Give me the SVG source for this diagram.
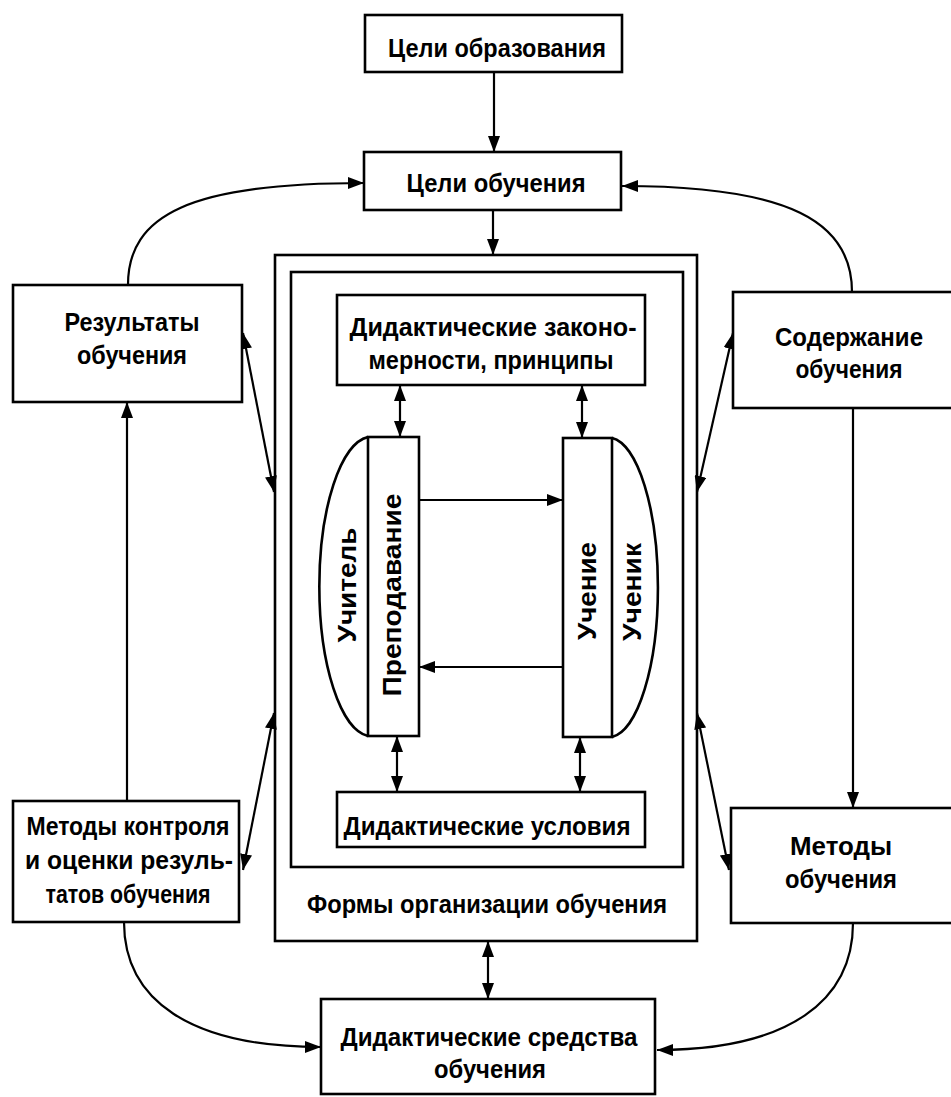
<svg xmlns="http://www.w3.org/2000/svg" width="951" height="1097" viewBox="0 0 951 1097">
<style>
.box{fill:#fff;stroke:#000;stroke-width:2.6}
.frame{fill:none;stroke:#000;stroke-width:2.6}
.ln{fill:none;stroke:#000;stroke-width:2.2}
.t{font-family:"Liberation Sans Narrow","Liberation Sans",Arial,sans-serif;font-size:26px;font-weight:bold;text-anchor:middle;fill:#000}
.r{font-family:"Liberation Sans",Arial,sans-serif;font-size:25px;font-weight:bold;text-anchor:middle;fill:#000}
</style>
<defs>
<marker id="ah" viewBox="0 0 16 12" refX="16" refY="6" markerWidth="16" markerHeight="12" markerUnits="userSpaceOnUse" orient="auto-start-reverse">
<path d="M0,0 L16,6 L0,12 z" fill="#000"/>
</marker>
</defs>
<rect width="951" height="1097" fill="#fff"/>

<g id="frames">
<rect id="forms" class="frame" x="275" y="255" width="422" height="686"/>
<rect id="inner" class="frame" x="291" y="272" width="392" height="595"/>
<text class="t" x="487" y="913" textLength="360" lengthAdjust="spacingAndGlyphs">Формы организации обучения</text>
</g>

<g id="connectors">
<line class="ln" x1="494" y1="73" x2="494" y2="152" marker-end="url(#ah)"/>
<line class="ln" x1="493" y1="210" x2="493" y2="255" marker-end="url(#ah)"/>
<path class="ln" d="M128,285 C128,215 190,183 364,183" marker-end="url(#ah)"/>
<path class="ln" d="M852,292 C852,222 790,186 622,186" marker-end="url(#ah)"/>
<line class="ln" x1="127" y1="801" x2="127" y2="402" marker-end="url(#ah)"/>
<line class="ln" x1="853" y1="408" x2="853" y2="808" marker-end="url(#ah)"/>
<line class="ln" x1="243" y1="333" x2="274" y2="492" marker-start="url(#ah)" marker-end="url(#ah)"/>
<line class="ln" x1="733" y1="333" x2="697" y2="492" marker-start="url(#ah)" marker-end="url(#ah)"/>
<line class="ln" x1="274" y1="713" x2="243" y2="870" marker-start="url(#ah)" marker-end="url(#ah)"/>
<line class="ln" x1="697" y1="713" x2="729" y2="870" marker-start="url(#ah)" marker-end="url(#ah)"/>
<line class="ln" x1="400" y1="385" x2="400" y2="437" marker-start="url(#ah)" marker-end="url(#ah)"/>
<line class="ln" x1="582" y1="385" x2="582" y2="438" marker-start="url(#ah)" marker-end="url(#ah)"/>
<line class="ln" x1="397" y1="736" x2="397" y2="792" marker-start="url(#ah)" marker-end="url(#ah)"/>
<line class="ln" x1="580" y1="737" x2="580" y2="792" marker-start="url(#ah)" marker-end="url(#ah)"/>
<line class="ln" x1="419" y1="500" x2="563" y2="500" marker-end="url(#ah)"/>
<line class="ln" x1="563" y1="667" x2="419" y2="667" marker-end="url(#ah)"/>
<line class="ln" x1="488" y1="941" x2="488" y2="999" marker-start="url(#ah)" marker-end="url(#ah)"/>
<path class="ln" d="M124,922 C124,1000 190,1047 321,1047" marker-end="url(#ah)"/>
<path class="ln" d="M853,923 C853,1000 790,1050 657,1050" marker-end="url(#ah)"/>
</g>

<g id="goals-education">
<rect class="box" x="365" y="15" width="257" height="57"/>
<text class="t" x="497" y="57" textLength="218" lengthAdjust="spacingAndGlyphs">Цели образования</text>
</g>
<g id="goals-learning">
<rect class="box" x="364" y="152" width="257" height="58"/>
<text class="t" x="496" y="192" textLength="179" lengthAdjust="spacingAndGlyphs">Цели обучения</text>
</g>
<g id="results">
<rect class="box" x="13" y="285" width="229" height="117"/>
<text class="t" x="132" y="331" textLength="135" lengthAdjust="spacingAndGlyphs">Результаты</text>
<text class="t" x="132" y="364" textLength="110" lengthAdjust="spacingAndGlyphs">обучения</text>
</g>
<g id="content">
<rect class="box" x="733" y="292" width="222" height="116"/>
<text class="t" x="849" y="346" textLength="148" lengthAdjust="spacingAndGlyphs">Содержание</text>
<text class="t" x="849" y="378" textLength="107" lengthAdjust="spacingAndGlyphs">обучения</text>
</g>
<g id="laws">
<rect class="box" x="337" y="295" width="308" height="90"/>
<text class="t" x="493" y="336" textLength="287" lengthAdjust="spacingAndGlyphs">Дидактические законо-</text>
<text class="t" x="491" y="369" textLength="245" lengthAdjust="spacingAndGlyphs">мерности, принципы</text>
</g>
<g id="teacher">
<path class="box" d="M368,437 A53,150 0 0 0 368,736"/>
<rect class="box" x="368" y="437" width="51" height="299"/>
<text class="r" transform="translate(356,585) rotate(-90)" textLength="115" lengthAdjust="spacingAndGlyphs">Учитель</text>
<text class="r" transform="translate(401,595) rotate(-90)" textLength="203" lengthAdjust="spacingAndGlyphs">Преподавание</text>
</g>
<g id="student">
<path class="box" d="M612,438 A50,150 0 0 1 612,737"/>
<rect class="box" x="563" y="438" width="49" height="299"/>
<text class="r" transform="translate(596,591) rotate(-90)" textLength="98" lengthAdjust="spacingAndGlyphs">Учение</text>
<text class="r" transform="translate(641,592) rotate(-90)" textLength="98" lengthAdjust="spacingAndGlyphs">Ученик</text>
</g>
<g id="conditions">
<rect class="box" x="337" y="792" width="308" height="55"/>
<text class="t" x="487" y="835" textLength="287" lengthAdjust="spacingAndGlyphs">Дидактические условия</text>
</g>
<g id="control-methods">
<rect class="box" x="13" y="801" width="226" height="121"/>
<text class="t" x="128" y="835" textLength="203" lengthAdjust="spacingAndGlyphs">Методы контроля</text>
<text class="t" x="129" y="869" textLength="208" lengthAdjust="spacingAndGlyphs">и оценки резуль-</text>
<text class="t" x="128" y="903" textLength="165" lengthAdjust="spacingAndGlyphs">татов обучения</text>
</g>
<g id="teaching-methods">
<rect class="box" x="731" y="808" width="224" height="115"/>
<text class="t" x="841" y="855" textLength="102" lengthAdjust="spacingAndGlyphs">Методы</text>
<text class="t" x="841" y="888" textLength="112" lengthAdjust="spacingAndGlyphs">обучения</text>
</g>
<g id="means">
<rect class="box" x="321" y="999" width="334" height="95"/>
<text class="t" x="489" y="1046" textLength="297" lengthAdjust="spacingAndGlyphs">Дидактические средства</text>
<text class="t" x="490" y="1078" textLength="112" lengthAdjust="spacingAndGlyphs">обучения</text>
</g>
</svg>
